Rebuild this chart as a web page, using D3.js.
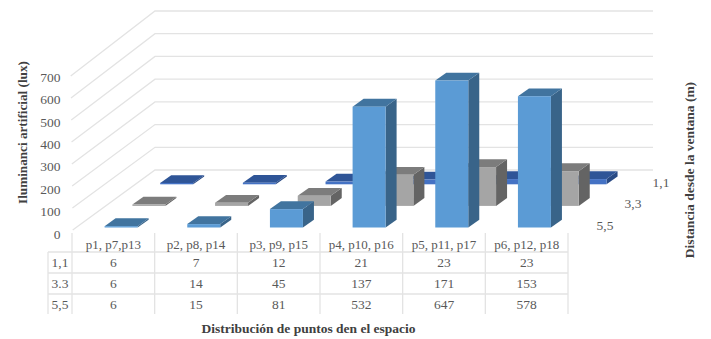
<!DOCTYPE html>
<html>
<head>
<meta charset="utf-8">
<script src="https://cdn.jsdelivr.net/npm/d3@7/dist/d3.min.js"></script>
<style>
  html, body { margin: 0; padding: 0; background: #fff; }
  svg { display: block; }
  text { font-family: "Liberation Serif", "Times New Roman", serif; }
</style>
</head>
<body>
<svg id="chart" width="711" height="339"></svg>
<script>
// Illuminance readings by measuring-point group and distance from the window
const categories = ["p1, p7,p13", "p2, p8, p14", "p3, p9, p15", "p4, p10, p16", "p5, p11, p17", "p6, p12, p18"];
const rowKeys = ["5,5", "3,3", "1,1"];
const tableLabels = ["1,1", "3.3", "5,5"];
const values11 = [6, 7, 12, 21, 23, 23];
const values33 = [6, 14, 45, 137, 171, 153];
const values55 = [6, 15, 81, 532, 647, 578];
const yTicks = [0, 100, 200, 300, 400, 500, 600, 700];

const seriesByRow = { "5,5": values55, "3,3": values33, "1,1": values11 };
const tableRows = [values11, values33, values55];

const palette = {
  "5,5": { front: "#5b9bd5", top: "#41749f", side: "#396489" },
  "3,3": { front: "#a5a5a5", top: "#7c7c7c", side: "#646464" },
  "1,1": { front: "#4472c4", top: "#2f5597", side: "#294a84" }
};

const svg = d3.select("#chart");
const gridColor = "#e3e3e3";
const labelColor = "#595959";
const titleColor = "#404040";

// Oblique projection: the floor's front edge plus a depth vector per row
const x = d3.scaleBand().domain(categories).range([72, 568]);
const depth = d3.scalePoint().domain(rowKeys).range([0, 2]);
const h = d3.scaleLinear().domain([0, 700]).range([0, 159]);
// The near edge of the side wall is slightly foreshortened
const wallFrontY = d3.scaleLinear().domain([0, 700]).range([230, 76]);
const wallFrontX = d3.scaleLinear().domain([0, 700]).range([72.7, 70.7]);
const wallBackY = d3.scaleLinear().domain([0, 700]).range([170, 11]);
const tickLabelY = d3.scaleLinear().domain([0, 700]).range([234, 77]);

const rowDx = 27.8, rowDy = 21.6;
const wallBackX = 155;
const floorY = 232;
const wallRight = 653;
const barInsetX = 32.6, barInsetY = 4.5, barW = 33, barDx = 11, barDy = 7.8;
const tableTop = 252, rowH = 21, tableBottom = 314, tableLeft = 48;

// Side wall and back wall gridlines
const grid = svg.append("g").attr("fill", "none").attr("stroke", gridColor).attr("stroke-width", 1.3);
yTicks.forEach(t => {
  grid.append("path").attr("d", d3.line()([
    [wallFrontX(t), wallFrontY(t)],
    [wallBackX, wallBackY(t)],
    [wallRight, wallBackY(t)]
  ]));
});

// Boxes are painted from the back row forward
const pts = p => p.map(q => q.join(",")).join(" ");
[...rowKeys].reverse().forEach(key => {
  const colors = palette[key];
  const r = depth(key);
  seriesByRow[key].forEach((v, i) => {
    const x0 = x(categories[i]) + barInsetX + r * rowDx;
    const yb = floorY - barInsetY - r * rowDy;
    const yt = yb - h(v);
    const g = svg.append("g").attr("class", "bar");
    g.append("polygon").attr("fill", colors.side).attr("points", pts([
      [x0 + barW, yt], [x0 + barW + barDx, yt - barDy], [x0 + barW + barDx, yb - barDy], [x0 + barW, yb]
    ]));
    g.append("polygon").attr("fill", colors.top).attr("points", pts([
      [x0, yt], [x0 + barDx, yt - barDy], [x0 + barW + barDx, yt - barDy], [x0 + barW, yt]
    ]));
    g.append("rect").attr("fill", colors.front)
      .attr("x", x0).attr("y", yt).attr("width", barW).attr("height", yb - yt);
  });
});

// Value axis labels
svg.append("g").selectAll("text").data(yTicks).join("text")
  .attr("x", 60.5).attr("y", d => tickLabelY(d))
  .attr("dy", "0.35em").attr("text-anchor", "end")
  .attr("font-size", 13.5).attr("fill", labelColor)
  .text(d => d);

// Depth axis labels
const depthLabelPos = { "5,5": [605, 225], "3,3": [633, 203], "1,1": [661, 182] };
svg.append("g").selectAll("text").data(rowKeys).join("text")
  .attr("x", d => depthLabelPos[d][0]).attr("y", d => depthLabelPos[d][1])
  .attr("dy", "0.35em").attr("text-anchor", "middle")
  .attr("font-size", 13.5).attr("fill", labelColor)
  .text(d => d);

// Data table under the chart
const table = svg.append("g");
const tableLines = table.append("g").attr("stroke", gridColor).attr("stroke-width", 1.3).attr("fill", "none");
[...categories.map(c => x(c)), x.range()[1]].forEach(px => {
  tableLines.append("line").attr("x1", px).attr("x2", px).attr("y1", floorY + 1).attr("y2", tableBottom);
});
tableLines.append("line").attr("x1", tableLeft).attr("x2", tableLeft).attr("y1", tableTop).attr("y2", tableBottom);
d3.range(3).forEach(i => {
  const y = tableTop + i * rowH;
  tableLines.append("line").attr("x1", tableLeft).attr("x2", x.range()[1]).attr("y1", y).attr("y2", y);
});

table.append("g").selectAll("text").data(categories).join("text")
  .attr("x", d => x(d) + x.bandwidth() / 2).attr("y", 249)
  .attr("text-anchor", "middle").attr("font-size", 13).attr("fill", labelColor)
  .text(d => d);

tableRows.forEach((row, i) => {
  const y = tableTop + i * rowH + 9.8;
  table.append("text")
    .attr("x", 60).attr("y", y).attr("dy", "0.35em").attr("text-anchor", "middle")
    .attr("font-size", 13.5).attr("fill", labelColor).text(tableLabels[i]);
  table.append("g").selectAll("text").data(row).join("text")
    .attr("x", (d, j) => x(categories[j]) + x.bandwidth() / 2).attr("y", y)
    .attr("dy", "0.35em").attr("text-anchor", "middle")
    .attr("font-size", 13.5).attr("fill", labelColor).text(d => d);
});

// Axis titles
const title = (text, tx, ty, size) => svg.append("text")
  .attr("transform", `translate(${tx},${ty})` + (tx < 100 || tx > 600 ? " rotate(-90)" : ""))
  .attr("text-anchor", "middle").attr("font-weight", "bold")
  .attr("font-size", size).attr("fill", titleColor).text(text);

title("Iluminanci artificial (lux)", 27, 132.5, 13.2);
title("Distancia desde la ventana (m)", 693.5, 170, 13.5);
title("Distribución de puntos den el espacio", 308.5, 332.5, 13.5);
</script>
</body>
</html>
